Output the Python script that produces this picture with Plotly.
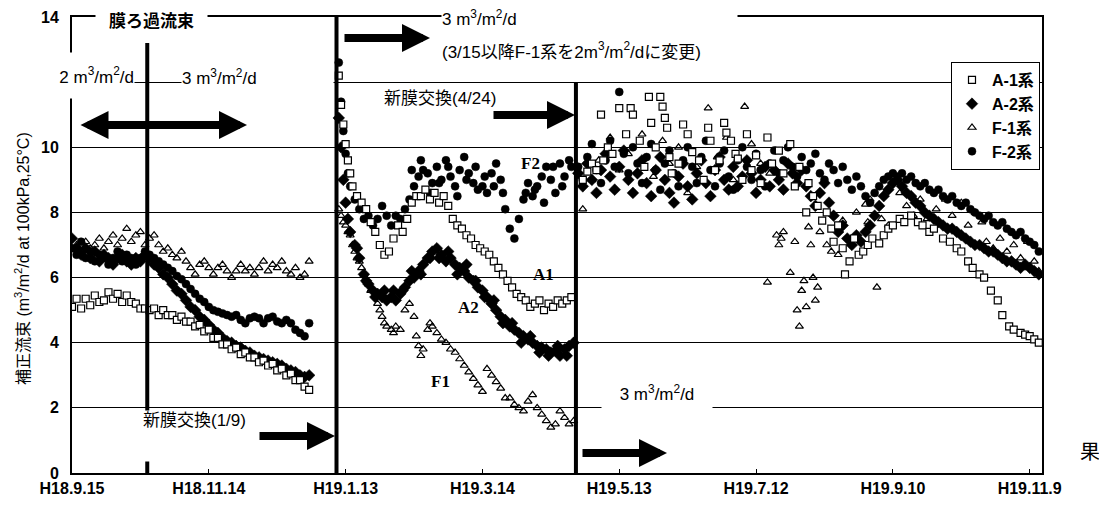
import pandas as pd
import plotly.graph_objects as go

REF_W, REF_H = 1107, 511
OFF = 8                      # default page margin of the html body
W, H = REF_W - OFF, REF_H - OFF
BASE = pd.Timestamp("2006-09-15")

# ---------------- axis labels ----------------
tick_dates = ["2006-09-15", "2006-11-14", "2007-01-13", "2007-03-14",
              "2007-05-13", "2007-07-12", "2007-09-10", "2007-11-09"]
tick_text = ["H18.9.15", "H18.11.14", "H19.1.13", "H19.3.14",
             "H19.5.13", "H19.7.12", "H19.9.10", "H19.11.9"]
y_ticks = [0, 2, 4, 6, 8, 10, 12, 14]
y_ticktext = ["0", "2", "4", "6", "8", "10", "12", "14"]

# event lines (flux change, membrane replacements)
event_dates = ["2006-10-18", "2007-01-09", "2007-04-24"]
event_tops = [13.2, 14.0, 12.0]

# ---------------- data (days since 2006-09-15) ----------------
left_days = [0, 2, 4, 6, 8, 10, 12, 14, 16, 18, 20, 22, 24, 26, 28, 30, 32, 34, 36, 38,
             40, 42, 44, 46, 48, 50, 52, 54, 56, 58, 60, 62, 64, 66, 68, 70, 72, 74, 76, 78,
             80, 82, 84, 86, 88, 90, 92, 94, 96, 98, 100, 102, 104]

a1_left = [5.1, 5.35, 5.05, 5.35, 5.15, 5.45, 5.25, 5.3, 5.55, 5.35, 5.5, 5.25, 5.45, 5.25,
           5.2, 5.05, 5.05, 5.0, 5.05, 4.85, 5.0, 4.85, 4.85, 4.7, 4.8, 4.65, 4.65, 4.5,
           4.55, 4.35, 4.4, 4.15, 4.15, 3.95, 3.95, 3.8, 3.85, 3.65, 3.7, 3.55, 3.55, 3.4,
           3.45, 3.3, 3.35, 3.15, 3.2, 3.0, 3.05, 2.85, 2.85, 2.65, 2.55]
a2_left = [7.2, 6.9, 6.7, 6.9, 6.6, 6.8, 6.5, 6.7, 6.6, 6.4, 6.6, 6.7, 6.5, 6.4, 6.6, 6.5,
           6.7, 6.6, 6.4, 6.3, 6.1, 6.0, 5.8, 5.6, 5.5, 5.3, 5.1, 5.0, 4.8, 4.7, 4.55, 4.4,
           4.3, 4.15, 4.05, 4.0, 3.9, 3.85, 3.75, 3.7, 3.6, 3.55, 3.5, 3.45, 3.4, 3.35, 3.3,
           3.2, 3.15, 3.1, 3.0, 2.95, 3.0]
f1_left = [6.9, 7.0, 6.8, 7.1, 6.9, 7.0, 7.2, 6.9, 7.1, 7.3, 7.0, 7.2, 7.5, 7.1, 7.3, 7.4,
           7.0, 7.2, 7.3, 7.0, 6.8, 6.9, 6.7, 6.6, 6.8, 6.5, 6.3, 6.1, 6.4, 6.5, 6.3, 6.1,
           6.3, 6.4, 6.2, 6.0, 6.2, 6.4, 6.2, 6.3, 6.1, 6.3, 6.5, 6.2, 6.4, 6.3, 6.5, 6.2,
           6.1, 6.3, 6.0, 6.1, 6.5]
f2_left = [6.9, 6.7, 7.1, 6.6, 6.8, 6.5, 6.7, 6.6, 6.4, 6.6, 6.8, 6.5, 6.7, 6.6, 6.4, 6.6,
           6.8, 6.7, 6.6, 6.5, 6.4, 6.3, 6.2, 6.05, 5.95, 5.8, 5.65, 5.5, 5.35, 5.25, 5.1,
           5.0, 4.95, 4.9, 4.85, 4.8, 4.85, 4.7, 4.6, 4.75, 4.8, 4.75, 4.6, 4.75, 4.8, 4.65,
           4.6, 4.7, 4.6, 4.4, 4.3, 4.2, 4.6]

# after membrane replacement (1/9)
a1_mid_days = [117, 118, 119, 120, 121, 122, 123, 125, 127, 129, 131, 133, 135, 137, 139, 141,
               143, 145, 147, 149, 151, 153, 155, 157, 159, 161, 163, 165, 167, 169, 171, 173,
               175, 177, 179, 181, 183, 185, 187, 189, 191, 193, 195, 197, 199, 201, 203, 205,
               207, 209, 211, 213, 215, 217, 219]
a1_mid = [12.2, 11.3, 10.7, 10.1, 9.6, 9.2, 8.8, 8.5, 8.3, 8.1, 7.7, 7.4, 7.0, 6.7, 6.8, 7.2,
          7.6, 7.4, 7.8, 8.3, 8.5, 8.5, 8.7, 8.4, 8.6, 8.3, 8.5, 8.2, 7.8, 7.6, 7.5, 7.3,
          7.2, 7.0, 6.9, 6.8, 6.7, 6.5, 6.3, 6.1, 5.9, 5.7, 5.5, 5.4, 5.3, 5.1, 5.2, 5.3,
          5.0, 5.2, 5.1, 5.3, 5.2, 5.3, 5.4]

a2_mid_days = [117, 118, 119, 120, 121, 122, 124, 126, 128, 130, 132, 134, 136, 138, 140, 142,
               144, 146, 148, 150, 152, 154, 156, 158, 160, 162, 164, 166, 168, 170, 172, 174,
               176, 178, 180, 182, 184, 186, 188, 190, 192, 194, 196, 198, 200, 202, 204, 206,
               208, 210, 212, 214, 216, 218, 220,
               125, 129, 133, 137, 141, 145, 149, 153, 157, 161, 165, 169, 173, 177, 181, 185,
               189, 193, 197, 201, 205, 209, 213, 217]
a2_mid = [10.9, 10.0, 9.0, 8.3, 7.8, 7.4, 7.0, 6.6, 6.1, 5.8, 5.6, 5.5, 5.4, 5.3, 5.4, 5.3,
          5.5, 5.7, 5.9, 6.0, 6.2, 6.4, 6.6, 6.8, 6.9, 6.7, 6.5, 6.6, 6.4, 6.3, 6.2, 6.0,
          5.9, 5.7, 5.6, 5.4, 5.2, 5.0, 4.8, 4.7, 4.5, 4.4, 4.3, 4.2, 4.1, 4.0, 3.9, 3.85,
          3.8, 3.7, 3.75, 3.6, 3.8, 3.9, 4.0,
          6.9, 5.9, 5.4, 5.6, 5.6, 5.6, 6.2, 6.1, 6.6, 6.6, 6.8, 6.1, 6.4, 5.9, 5.4, 5.3,
          4.6, 4.6, 4.0, 4.2, 3.7, 3.6, 3.9, 3.6]

f1_mid_days = [117, 118, 119, 120, 121, 122, 123, 124, 125, 126, 127, 128, 129, 130, 131,
               134, 135, 136, 137, 138, 140, 141, 142, 144, 146, 148, 150, 151, 152, 153, 154,
               156, 157, 158, 160, 162, 164, 166, 168, 170, 172, 174, 176, 178, 180, 182, 184,
               186, 188, 190, 192, 194, 196, 198, 200, 202, 204, 206, 208, 210, 212, 214, 216,
               218, 220]
f1_mid = [8.1, 7.9, 7.7, 7.6, 7.4, 7.3, 7.0, 6.8, 6.6, 6.5, 6.3, 6.1, 5.9, 5.8, 5.6,
          5.2, 5.0, 4.8, 4.6, 4.5, 4.4, 4.3, 4.5, 4.4, 5.0, 5.2, 4.8, 4.2, 3.9, 3.6, 3.8,
          4.4, 4.6, 4.5, 4.3, 4.1, 4.0, 3.8, 3.7, 3.5, 3.3, 3.1, 2.9, 2.7, 2.5, 3.2, 3.0,
          2.8, 2.6, 2.3, 2.3, 2.1, 2.0, 1.9, 2.2, 2.4, 2.0, 1.8, 1.6, 1.4, 1.5, 1.9, 1.7,
          1.5, 1.6]

f2_mid_days = [117, 118, 119, 120, 121, 122, 124, 126, 128, 130, 132, 134, 136, 138, 140, 142,
               144, 146, 148, 150, 152, 154, 156, 158, 160, 162, 164, 166, 168, 170, 172, 174,
               176, 178, 180, 182, 184, 186, 188, 190, 192, 194, 196, 198, 200, 202, 204, 206,
               208, 210, 212, 214, 216, 218, 219,
               149, 153, 157, 161, 165, 169, 173, 177, 181, 185, 189, 199, 203, 207, 211, 215]
f2_mid = [12.6, 11.4, 10.5, 9.8, 9.2, 8.8, 8.4, 8.1, 7.8, 7.9, 7.6, 7.8, 8.2, 7.9, 7.6, 7.9,
          7.8, 8.1, 8.4, 8.8, 9.1, 9.3, 9.2, 8.9, 9.4, 9.0, 9.6, 9.1, 8.8, 9.3, 9.7, 9.2,
          8.9, 8.7, 8.8, 8.6, 9.2, 9.5, 9.0, 8.1, 7.5, 7.2, 7.8, 8.4, 8.9, 8.5, 8.8, 9.1,
          9.4, 9.0, 8.6, 9.5, 9.1, 9.6, 9.4,
          9.3, 9.6, 8.6, 8.9, 9.4, 8.5, 9.0, 9.4, 9.1, 8.8, 8.6, 8.6, 8.7, 8.3, 9.4, 8.8]

# after membrane replacement (4/24)
a1_right_days = [224, 226, 228, 230, 232, 233, 235, 237, 240, 243, 245, 246, 249, 251, 253, 254,
                 256, 258, 259, 260, 261, 262, 263, 266, 268, 270, 272, 275, 277, 279, 280, 282,
                 284, 286, 287, 289, 291, 292, 294, 296, 298, 300, 302, 305, 307, 310, 312, 315,
                 317, 319, 322, 323, 325, 327, 329, 331, 333, 334, 336, 338, 339, 341, 343, 345,
                 347, 349, 351, 354, 356, 358, 360, 363, 365, 368, 371, 373, 376, 378, 382, 385,
                 388, 390, 393, 395, 398, 400, 403, 406, 408, 411, 413, 416, 418, 420, 422, 424]
a1_right = [9.0, 9.25, 9.5, 9.3, 11.0, 9.6, 10.0, 9.8, 11.2, 10.4, 11.2, 11.0, 10.2, 9.4, 11.55, 10.75,
            10.0, 11.55, 11.25, 10.9, 10.6, 9.7, 9.2, 9.5, 10.7, 10.4, 9.85, 9.6, 9.0, 10.6, 10.2, 9.3,
            9.6, 10.75, 10.45, 10.2, 9.8, 9.65, 9.0, 10.4, 9.3, 9.75, 8.9, 10.3, 9.5, 9.9, 9.2, 10.1,
            8.8, 9.4, 8.0, 8.9, 8.5, 8.2, 7.75, 8.0, 7.5, 7.1, 7.6, 6.9, 6.1, 6.5, 7.2, 6.7,
            6.8, 7.0, 7.2, 7.05, 7.3, 7.5, 7.6, 7.8, 7.7, 7.9, 7.7, 7.6, 7.4, 7.5, 7.2, 7.1,
            6.9, 6.8, 6.5, 6.3, 6.1, 6.0, 5.6, 5.3, 4.85, 4.5, 4.4, 4.3, 4.25, 4.2, 4.1, 4.0]

right_days = [222, 224, 226, 228, 230, 232, 234, 236, 238, 240, 242, 244, 246, 248, 250, 252,
              254, 256, 258, 260, 262, 264, 266, 268, 270, 272, 274, 276, 278, 280, 282, 284,
              286, 288, 290, 292, 294, 296, 298, 300, 302, 304, 306, 308, 310, 312, 314, 316,
              318, 320, 322, 324, 326, 328, 330, 332, 334, 336, 338, 340, 342, 344, 346, 348,
              350, 352, 354, 356, 358, 360, 362, 364, 366, 368, 370, 372, 374, 376, 378, 380,
              382, 384, 386, 388, 390, 392, 394, 396, 398, 400, 402, 404, 406, 408, 410, 412,
              414, 416, 418, 420, 422, 424]
a2_right = [9.2, 8.8, 9.5, 9.0, 8.6, 9.3, 9.8, 9.1, 8.7, 9.4, 9.9, 9.0, 8.6, 9.2, 9.6, 8.9,
            8.5, 9.3, 9.7, 9.0, 8.6, 8.3, 9.1, 9.5, 8.8, 8.4, 9.2, 9.6, 8.9, 8.5, 9.3, 9.7,
            9.0, 8.7, 9.4, 8.8, 9.1, 9.6, 9.2, 8.6, 9.0, 9.4, 8.8, 9.3, 9.0, 8.7, 9.5, 9.2,
            8.9, 9.3, 8.8, 8.5, 8.2, 8.6, 8.9, 8.3, 7.9, 7.4, 7.6, 7.2, 7.0, 7.3, 7.1, 7.4,
            7.6, 7.9, 8.2, 8.5, 8.7, 8.9, 9.0, 8.8, 8.6, 8.5, 8.3, 8.2, 8.0, 7.9, 7.8, 7.7,
            7.6, 7.5, 7.5, 7.4, 7.3, 7.2, 7.1, 7.0, 7.0, 6.9, 6.8, 6.8, 6.7, 6.6, 6.5, 6.5,
            6.4, 6.3, 6.4, 6.3, 6.2, 6.1]
f2_right = [9.4, 9.0, 9.7, 10.1, 9.3, 8.9, 9.6, 10.2, 9.4, 11.7, 9.8, 9.2, 10.0, 9.5, 8.9, 9.7,
            10.1, 9.3, 8.7, 9.5, 9.9, 9.2, 8.8, 9.6, 10.0, 9.4, 8.9, 9.7, 10.2, 9.3, 8.8, 9.5,
            9.9, 9.1, 8.7, 9.6, 10.0, 9.4, 9.0, 9.8, 9.3, 8.8, 9.5, 9.9, 9.2, 9.6, 10.0, 9.4,
            9.1, 9.7, 9.3, 9.5, 9.8, 9.2, 9.0, 9.5, 9.3, 8.9, 9.4, 9.0, 8.7, 9.1, 8.8, 8.5,
            8.3, 8.6, 8.8, 9.0, 9.1, 9.2, 9.1, 9.2, 9.0, 9.1, 8.9, 8.8, 8.9, 8.7, 8.6, 8.7,
            8.5, 8.4, 8.5, 8.3, 8.2, 8.3, 8.1, 8.0, 7.9, 7.8, 7.9, 7.7, 7.6, 7.7, 7.5, 7.4,
            7.3, 7.4, 7.2, 7.1, 7.0, 6.8]

f1_right_days = [224, 228, 231, 236, 240, 244, 250, 255, 259, 262, 266, 270, 274, 279, 283, 287,
                 290, 295, 298, 302, 305, 306, 309, 310, 311, 312, 315, 317, 318, 319, 320, 321,
                 322, 323, 324, 325, 326, 327, 328, 331, 333, 336, 338, 344, 348, 349, 350, 353,
                 355, 358, 363, 366, 369, 372, 375, 379, 383, 386, 390, 393, 396, 399, 401, 404,
                 407, 410, 413, 416, 419, 422, 424]
f1_right = [8.1, 9.0, 9.6, 10.3, 9.3, 9.8, 10.4, 9.1, 10.2, 9.5, 10.0, 8.6, 9.4, 11.2, 9.7, 10.3,
            9.0, 11.25, 10.1, 9.5, 5.85, 9.2, 7.3, 7.0, 7.2, 7.4, 6.15, 7.1, 5.0, 4.5, 5.6, 5.9,
            5.1, 7.55, 7.0, 6.0, 5.3, 5.7, 7.4, 7.0, 6.8, 6.7, 7.75, 8.0, 8.25, 7.7, 8.4, 5.7,
            7.8, 7.6, 8.6, 8.2, 7.9, 8.4, 7.8, 8.1, 8.4, 7.9, 8.3, 7.6, 8.0, 7.7, 7.1, 6.9,
            7.2, 6.8, 7.0, 6.6, 7.1, 6.5, 6.2]


def to_dates(days):
    return [BASE + pd.Timedelta(days=d) for d in days]


series = [
    # name, rank, days, values, marker
    ("A-2系", 2, left_days + a2_mid_days + right_days, a2_left + a2_mid + a2_right,
     dict(symbol="diamond", size=9, color="black", line=dict(color="black", width=0.5))),
    ("F-2系", 4, left_days + f2_mid_days + right_days, f2_left + f2_mid + f2_right,
     dict(symbol="circle", size=8, color="black", line=dict(color="black", width=0.5))),
    ("F-1系", 3, left_days + f1_mid_days + f1_right_days, f1_left + f1_mid + f1_right,
     dict(symbol="triangle-up-open", size=7, color="black", line=dict(color="black", width=1.2))),
    ("A-1系", 1, left_days + a1_mid_days + a1_right_days, a1_left + a1_mid + a1_right,
     dict(symbol="square", size=7, color="white", line=dict(color="black", width=1.2))),
]

fig = go.Figure()
for name, rank, days, vals, marker in series:
    fig.add_trace(go.Scatter(x=to_dates(days), y=vals, mode="markers", name=name,
                             legendrank=rank, marker=marker, hoverinfo="skip"))

# ---------------- pixel helpers (reference-image pixels -> paper) ----------------
T, B = 17, 473          # plot top / bottom in reference pixels
L, R = 72, 1042         # plot left / right in reference pixels


def pxx(p):
    return (p - OFF) / W


def pyy(p):
    return (B - p) / (B - T)


LAT = "Liberation Sans, Arial, sans-serif"
MIX = "Liberation Sans, Noto Sans CJK JP, sans-serif"
JP = "Noto Sans CJK JP, sans-serif"
SERIF = "Liberation Serif, Times New Roman, serif"
M3 = "m<sup>3</sup>/m<sup>2</sup>/d"

# vertical event lines
for d, top in zip(event_dates, event_tops):
    fig.add_shape(type="line", xref="x", yref="y", x0=d, x1=d, y0=0, y1=top,
                  line=dict(color="black", width=4), layer="above")

ann = []


def box(text, x0, x1, y0, y1, size=15, family=MIX, align="left", valign="middle",
        weight="normal"):
    ann.append(dict(text=text, xref="paper", yref="paper",
                    x=pxx((x0 + x1) / 2), y=pyy((y0 + y1) / 2),
                    xanchor="center", yanchor="middle",
                    width=x1 - x0, height=y1 - y0, align=align, valign=valign,
                    bgcolor="white", borderpad=0, showarrow=False,
                    font=dict(family=family, size=size, color="black", weight=weight)))


def label(text, cx, cy, size=15, family=MIX, weight="normal"):
    ann.append(dict(text=text, xref="paper", yref="paper", x=pxx(cx), y=pyy(cy),
                    xanchor="center", yanchor="middle", showarrow=False,
                    font=dict(family=family, size=size, color="black", weight=weight)))


def arrow(tail_x, tip_x, yp, both=False):
    a = dict(text="", xref="paper", yref="paper", x=pxx(tip_x), y=pyy(yp),
             ax=tail_x - tip_x, ay=0, axref="pixel", ayref="pixel", showarrow=True,
             arrowhead=2, arrowsize=0.7, arrowwidth=8, arrowcolor="black", standoff=0)
    if both:
        a.update(arrowside="end+start", startarrowhead=2, startarrowsize=0.7, startstandoff=0)
    ann.append(a)


box("膜ろ過流束", 96, 207, 7, 31, size=17, family=JP, align="center", weight="bold")
box("2 " + M3, 36, 134, 53, 98, size=17, align="right")
box("3 " + M3, 182, 333, 62, 92, size=17, align="left")
box("3 " + M3, 442, 737, 3, 33, size=17, align="left")
box("(3/15以降F-1系を2" + M3 + "に変更)", 442, 737, 33, 68, size=17, align="left")
box("新膜交換(1/9)", 143, 257, 411, 461, size=17, align="left", valign="top")
box("3 " + M3, 602, 712, 382, 414, size=17, align="center", valign="top")
label("新膜交換(4/24)", 440, 98, size=17)
label("F2", 530, 163, size=17, family=SERIF, weight="bold")
label("A1", 543, 274, size=17, family=SERIF, weight="bold")
label("A2", 468, 308, size=17, family=SERIF, weight="bold")
label("F1", 440, 381, size=17, family=SERIF, weight="bold")
label("果", 1090, 450, size=20, family=JP)

arrow(79, 247, 125, both=True)
arrow(343, 430, 38)
arrow(492, 575, 115)
arrow(258, 335, 436)
arrow(581, 667, 453)

ann.append(dict(text="補正流束 (" + M3 + " at 100kPa,25°C)", xref="paper", yref="paper",
                x=pxx(22), y=pyy(259), xanchor="center", yanchor="middle", textangle=-90,
                showarrow=False, font=dict(family=MIX, size=16, color="black")))

TICK_FONT = dict(family=LAT, size=16, color="black", weight="bold")

fig.update_layout(
    width=W, height=H,
    margin=dict(l=0, r=0, t=T - OFF, b=H - (B - OFF), autoexpand=False),
    paper_bgcolor="white", plot_bgcolor="white",
    annotations=ann,
    showlegend=True,
    legend=dict(x=pxx(1040), xanchor="right", y=pyy(62), yanchor="top",
                bgcolor="white", bordercolor="black", borderwidth=1,
                font=dict(family=MIX, size=16, color="black", weight="bold"),
                itemwidth=30, tracegroupgap=0, traceorder="normal"),
    xaxis=dict(domain=[(L - OFF) / W, (R - OFF) / W], type="date", automargin=False,
               range=[BASE, BASE + pd.Timedelta(days=425.4)],
               tickvals=tick_dates, ticktext=tick_text, ticks="inside", ticklen=4,
               tickcolor="black", showgrid=False, zeroline=False, showline=True,
               linecolor="black", linewidth=2, mirror=True, tickfont=TICK_FONT),
    yaxis=dict(range=[0, 14], tickvals=y_ticks, ticktext=y_ticktext, ticks="",
               automargin=False,
               showgrid=True, gridcolor="black", gridwidth=1, zeroline=False,
               showline=True, linecolor="black", linewidth=2, mirror=True,
               tickfont=TICK_FONT, ticklabelstandoff=8),
)

fig.write_html("out.html")
